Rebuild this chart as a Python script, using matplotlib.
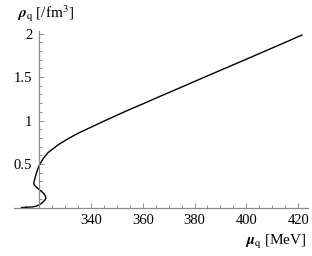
import matplotlib
matplotlib.use("Agg")
import matplotlib.pyplot as plt
from matplotlib.ticker import FixedLocator

plt.rcParams['font.family'] = ['Liberation Serif', 'DejaVu Serif']
plt.rcParams['mathtext.fontset'] = 'stix'

# quark chemical potential [MeV] and quark density [/fm^3]
mu_q = [313.2, 315.7, 317.5, 318.9, 319.9, 320.8, 321.5, 322.2, 322.6, 322.5,
        322.1, 321.6, 321.0, 320.0, 319.1, 318.4, 318.0, 317.95, 318.1, 318.4,
        318.7, 319.1, 319.6, 320.1, 321.5, 323.4, 327.3, 331.1, 335.0, 338.5,
        345.5, 353.1, 360.5, 367.5, 375.0, 382.1, 390.0, 396.5, 402.5, 408.5,
        415.0, 421.4]
rho_q = [0.0, 0.003, 0.007, 0.015, 0.029, 0.045, 0.063, 0.085, 0.106, 0.128,
         0.149, 0.166, 0.182, 0.205, 0.23, 0.25, 0.267, 0.285, 0.305, 0.336,
         0.37, 0.411, 0.45, 0.489, 0.56, 0.63, 0.72, 0.79, 0.853, 0.902,
         1.0, 1.103, 1.198, 1.289, 1.385, 1.477, 1.578, 1.661, 1.738, 1.815,
         1.899, 1.983]

x_major = [340, 360, 380, 400, 420]
y_major = [0.5, 1, 1.5, 2]
y_labels = ['0.5', '1', '1.5', '2']

fig = plt.figure(figsize=(3.12, 2.56), dpi=100)
ax = fig.add_axes([14 / 312, 48.5 / 256, 294 / 312, 176.5 / 256])
ax.plot(mu_q, rho_q, color='black', lw=1.0, clip_on=False)

ax.set_xlim(310.3, 423.8)
ax.set_ylim(0, 2.03)

axis_col = '#8c8c8c'
ax.spines['left'].set_position(('data', 320))
ax.spines['bottom'].set_position(('data', 0))
ax.spines['right'].set_visible(False)
ax.spines['top'].set_visible(False)
for s in ('left', 'bottom'):
    ax.spines[s].set_color(axis_col)
    ax.spines[s].set_linewidth(0.9)

ax.xaxis.set_major_locator(FixedLocator(x_major))
ax.xaxis.set_minor_locator(FixedLocator([v for v in range(315, 424, 5) if v % 20 != 0]))
ax.yaxis.set_major_locator(FixedLocator(y_major))
ax.yaxis.set_minor_locator(FixedLocator([i / 10 for i in range(1, 21) if i % 5 != 0]))
ax.set_yticklabels(y_labels)
ax.tick_params(which='both', direction='in', color=axis_col, labelsize=10.5, width=0.7)
ax.tick_params(which='major', length=3.5, pad=5)
ax.tick_params(which='minor', length=2)

fig.text(17 / 312, 1 - 14 / 256, r'$\boldsymbol{\rho}_{\mathrm{q}}$ [/fm$^3$]',
         fontsize=11, ha='left', va='center')
fig.text(307 / 312, 1 - 242 / 256, r'$\boldsymbol{\mu}_{\mathrm{q}}$ [MeV]',
         fontsize=11, ha='right', va='center')

fig.savefig('out.png', dpi=100)
